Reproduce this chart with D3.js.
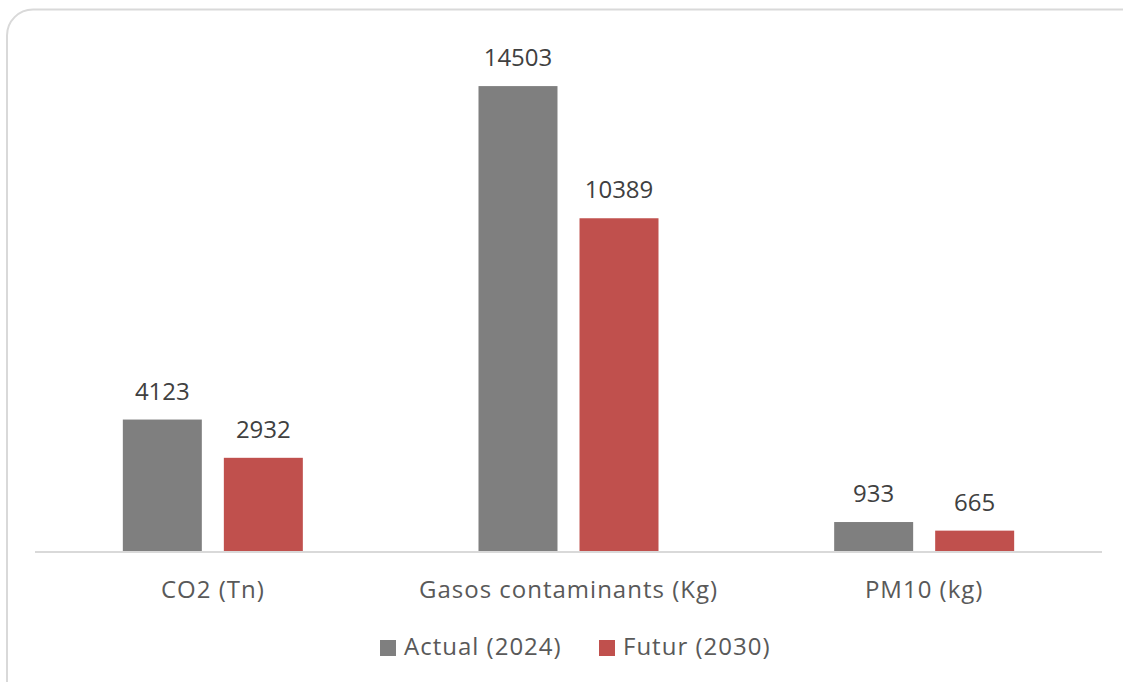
<!DOCTYPE html>
<html><head><meta charset="utf-8">
<script src="https://cdn.jsdelivr.net/npm/d3@7"></script>
<style>html,body{margin:0;padding:0;background:#fff;}svg{display:block;}</style>
</head><body>
<svg id="chart" width="1123" height="682"></svg>
<script>
const categories = ["CO2 (Tn)", "Gasos contaminants (Kg)", "PM10 (kg)"];
const seriesNames = ["Actual (2024)", "Futur (2030)"];
const actualValues = [4123, 14503, 933];
const futurValues = [2932, 10389, 665];
const colors = ["#7f7f7f", "#c0504d"];
const yMax = 16000;

(function () {
const svg = d3.select("#chart");
const font = "'Open Sans', sans-serif";

// panel
svg.append("rect").attr("x", 7).attr("y", 9.5).attr("width", 1140).attr("height", 700)
  .attr("rx", 26).attr("fill", "#fff").attr("stroke", "#d9d9d9").attr("stroke-width", 2);

const pLeft = 35, pRight = 1102, pTop = 38, pBottom = 552;
const x0 = d3.scaleBand().domain(categories).range([pLeft, pRight]).padding(0);
const x1 = d3.scaleBand().domain(seriesNames).range([0, 180]).paddingInner(0.218).paddingOuter(0);
const y = d3.scaleLinear().domain([0, yMax]).range([pBottom, pTop]);
const offset = (x0.bandwidth() - 180) / 2;

const data = categories.map((c, i) => ({cat: c, vals: [
  {s: seriesNames[0], v: actualValues[i], c: colors[0]},
  {s: seriesNames[1], v: futurValues[i], c: colors[1]}]}));

const g = svg.selectAll("g.cat").data(data).join("g").attr("class", "cat")
  .attr("transform", d => `translate(${x0(d.cat) + offset},0)`);

g.selectAll("rect").data(d => d.vals).join("rect")
  .attr("x", d => x1(d.s)).attr("width", x1.bandwidth())
  .attr("y", d => y(d.v)).attr("height", d => y(0) - y(d.v)).attr("fill", d => d.c);

g.selectAll("text.val").data(d => d.vals).join("text").attr("class", "val")
  .attr("x", d => x1(d.s) + x1.bandwidth() / 2).attr("y", d => y(d.v) - 20)
  .attr("text-anchor", "middle").attr("font-family", font).attr("font-size", 24)
  .attr("fill", "#404040").text(d => d.v);

// axis
const xAxis = svg.append("g").attr("transform", `translate(0,${pBottom})`)
  .call(d3.axisBottom(x0).tickSize(0).tickPadding(0));
xAxis.select(".domain").attr("stroke", "#d9d9d9").attr("stroke-width", 2)
  .attr("d", `M${pLeft},0H${pRight}`);
xAxis.selectAll(".tick text").attr("font-family", font).attr("font-size", 24)
  .attr("letter-spacing", 1).attr("fill", "#595959").attr("dy", null).attr("y", 46);

// legend
const legendX = [380, 599];
const lg = svg.selectAll("g.leg").data(seriesNames).join("g").attr("class", "leg")
  .attr("transform", (d, i) => `translate(${legendX[i]},640)`);
lg.append("rect").attr("width", 16).attr("height", 16).attr("fill", (d, i) => colors[i]);
lg.append("text").attr("x", 24).attr("y", 15).attr("font-family", font).attr("font-size", 24)
  .attr("letter-spacing", 1).attr("fill", "#595959").text(d => d);
})();
</script>
</body></html>
